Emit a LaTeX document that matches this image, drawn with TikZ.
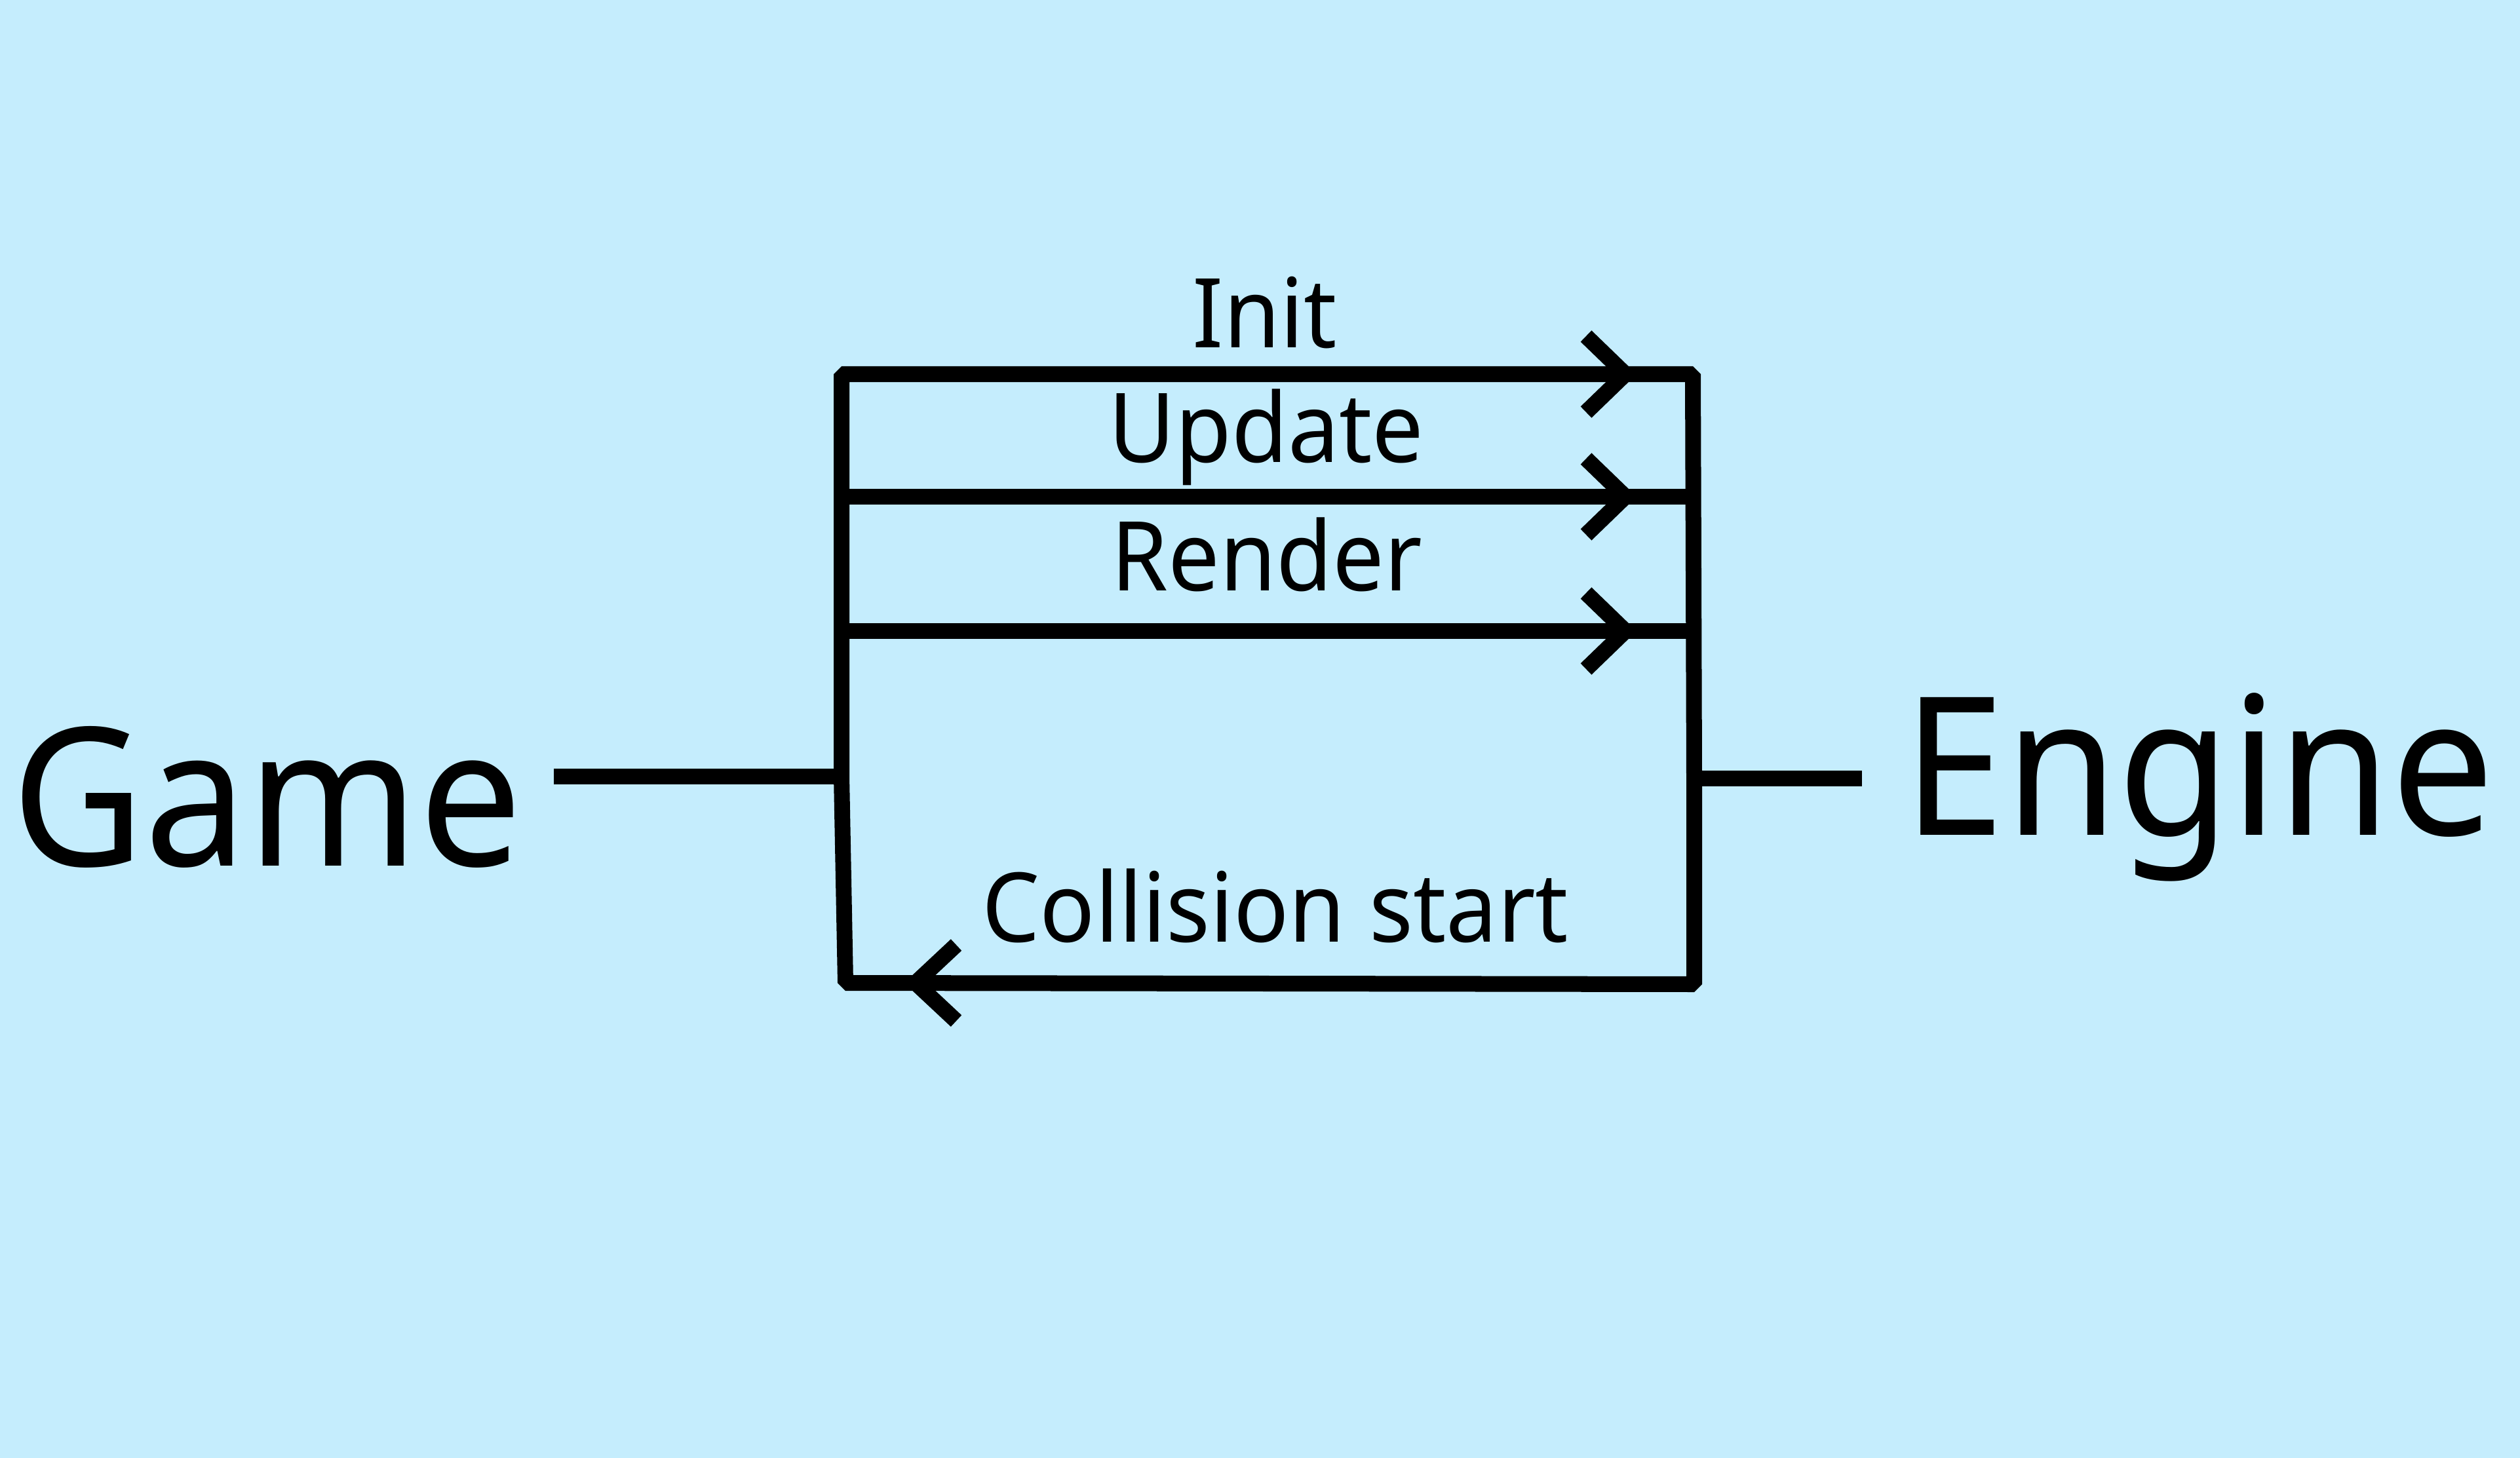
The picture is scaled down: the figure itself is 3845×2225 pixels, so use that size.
\documentclass[tikz,border=0pt]{standalone}
\usepackage{fontspec}
\setmainfont{Noto Sans}[FakeStretch=0.95]
\definecolor{bg}{RGB}{197,237,253}
\begin{document}
\begin{tikzpicture}[x=0.01cm,y=-0.01cm,
  wire/.style={line width=0.24cm, line cap=butt, line join=miter},
  framewire/.style={wire, line join=bevel},
  chev/.style={wire, line join=miter},
  bigtext/.style={font=\fontsize{83.7}{90}\selectfont, inner sep=0pt, anchor=base},
  labtext/.style={font=\fontsize{41.8}{46}\selectfont, inner sep=0pt, anchor=base}]
\fill[bg] (0,0) rectangle (3845,2225);
\useasboundingbox (0,0) rectangle (3845,2225);
% nodes
\node[bigtext] (game) at (407,1321) {Game};
\node[bigtext] (engine) at (3355,1274) {Engine};
\node[labtext] (init) at (1930,531) {Init};
\node[labtext] (update) at (1932,706) {Update};
\node[labtext] (render) at (1933,901) {Render};
\node[labtext] (coll) at (1946,1437) {Collision start};
% frame coordinates
\coordinate (TL) at (1284,571);
\coordinate (TR) at (2583,571);
\coordinate (LM) at (1284,1185);
\coordinate (BL) at (1290,1500);
\coordinate (BR) at (2585,1502);
\coordinate (RM) at (2585,1188);
\coordinate (UL) at (1284,758);
\coordinate (UR) at (2583,758);
\coordinate (RL) at (1284,963);
\coordinate (RR) at (2584,963);
\coordinate (G0) at (845,1185);
\coordinate (E0) at (2841,1188);
% tips
\coordinate (tipI) at (2480,571);
\coordinate (tipU) at (2480,758);
\coordinate (tipR) at (2480,963);
\coordinate (tipC) at (1397,1500);
% connectors
\draw[framewire] (LM) -- (TL) -- (TR) -- (RM) -- (BR) -- (BL) -- cycle;
\draw[wire] (UL) -- (UR);
\draw[wire] (RL) -- (RR);
\draw[wire] (G0) -- (LM);
\draw[wire] (RM) -- (E0);
% arrow heads
\foreach \t in {tipI,tipU,tipR}{
  \draw[chev] ([shift={(-60,-58)}]\t) -- (\t) -- ([shift={(-60,58)}]\t);
}
\draw[chev] ([shift={(62,-58)}]tipC) -- (tipC) -- ([shift={(62,58)}]tipC);
\end{tikzpicture}
\end{document}
